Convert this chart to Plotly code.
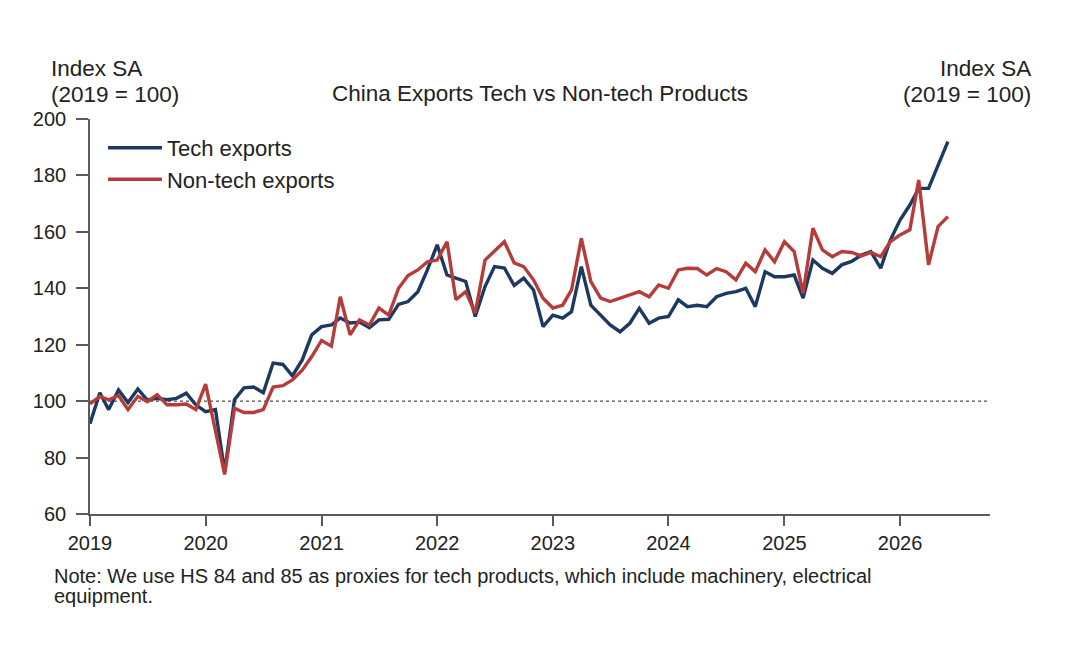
import plotly.graph_objects as go
import pandas as pd

# ---------------- data ----------------
months = pd.date_range("2019-01-01", periods=90, freq="MS").strftime("%Y-%m-%d").tolist()

tech_exports = [
    92, 103, 97, 104, 99.5, 104.3, 100.4, 101, 100.5, 101, 102.8, 98.7,
    96.3, 97, 75, 100.5, 104.7, 105, 103, 113.5, 113, 109, 114.6, 123.5,
    126.4, 127, 129.5, 127.7, 128, 126, 128.8, 129, 134.3, 135.3, 138.8, 146.5,
    155.4, 144.7, 143.6, 142.4, 130, 140.6, 147.7, 147.2, 141, 143.6, 139.4, 126.4,
    130.5, 129.4, 131.7, 147.7, 134, 130.5, 127, 124.6, 127.6, 132.9, 127.6, 129.4,
    130, 135.9, 133.5, 134, 133.5, 137, 138.2, 138.8, 140, 133.5, 145.9, 144.1,
    144.1, 144.7, 136.5, 150, 147.1, 145.3, 148.3, 149.5, 151.8, 153,
    147.1, 157, 164.2, 169.5, 175.4, 175.4, 183.7, 192,
]

nontech_exports = [
    99, 101.7, 100.5, 102, 97, 101.7, 99.8, 102.3, 98.7, 98.7, 99, 97,
    106, 89.5, 74, 97.5, 96, 96, 97, 105, 105.5, 107.5, 111, 115.8,
    121.5, 119.5, 137, 123.5, 128.8, 127, 133, 130.5, 140, 144.5, 146.5, 149.4,
    150, 156.5, 136, 138.8, 131.2, 150, 153, 156.5, 149, 147.7, 143, 136.5,
    133, 134, 139.4, 157.7, 142.4, 136.5, 135.3, 136.5, 137.6, 138.8, 137, 141.2,
    140, 146.5, 147.1, 147, 144.7, 147, 145.9, 143, 148.9, 145.9, 153.6, 149.4,
    156.5, 153, 138.2, 161.3, 153.6, 151.2, 153, 152.7, 151.5, 152.7,
    151.2, 156.5, 158.9, 160.7, 178.4, 148.3, 161.9, 165.4,
]

year_ticks = [f"{y}-01-01" for y in range(2019, 2027)]
year_labels = [str(y) for y in range(2019, 2027)]
value_ticks = [60, 80, 100, 120, 140, 160, 180, 200]
baseline = 100

# ---------------- figure ----------------
FONT = "Liberation Sans, Arial, sans-serif"
AXIS_COL = "#5a5a5a"
TXT = "#222222"

fig = go.Figure()
fig.add_trace(go.Scatter(
    x=months, y=tech_exports, name="Tech exports", mode="lines",
    line=dict(color="#1b3961", width=3.4),
))
fig.add_trace(go.Scatter(
    x=months, y=nontech_exports, name="Non-tech exports", mode="lines",
    line=dict(color="#b63c3a", width=3.4),
))

fig.add_hline(y=baseline, line=dict(color="#222222", width=1, dash="3px,3px"), layer="below")

axis_common = dict(
    range=[60, 200], tickvals=value_ticks, ticks="outside", ticklen=12,
    tickwidth=1.5, tickcolor=AXIS_COL, showline=True, linecolor=AXIS_COL,
    linewidth=1.6, showgrid=False, zeroline=False,
    tickfont=dict(family=FONT, size=20, color=TXT), ticklabelstandoff=6,
)

fig.update_layout(
    width=1080, height=645,
    margin=dict(l=90, r=90, t=119, b=131),
    paper_bgcolor="white", plot_bgcolor="white",
    font=dict(family=FONT, color=TXT),
    xaxis=dict(
        type="date", range=["2019-01-01", "2026-10-12"],
        tickvals=year_ticks, ticktext=year_labels,
        ticks="outside", ticklen=10, tickwidth=1.5, tickcolor=AXIS_COL,
        showline=True, linecolor=AXIS_COL, linewidth=1.6,
        showgrid=False, zeroline=False,
        tickfont=dict(family=FONT, size=20, color=TXT),
    ),
    yaxis=dict(side="left", **axis_common),
    yaxis2=dict(side="right", overlaying="y", **axis_common),
    legend=dict(
        x=0.0144, y=0.98, xanchor="left", yanchor="top",
        bgcolor="rgba(0,0,0,0)", borderwidth=0,
        font=dict(family=FONT, size=22, color=TXT),
        itemwidth=54, tracegroupgap=0,
    ),
    showlegend=True,
)


def px_x(px):
    return (px - 90) / 900.0


def px_y(py):
    return (514 - py) / 395.0


def text_ann(text, x, y, xanchor, size):
    return dict(text=text, xref="paper", yref="paper", x=px_x(x), y=px_y(y),
                xanchor=xanchor, yanchor="middle", showarrow=False,
                font=dict(family=FONT, size=size, color=TXT))


ann = [
    text_ann("Index SA", 49, 68, "left", 22.5),
    text_ann("(2019 = 100)", 49, 94, "left", 22.5),
    text_ann("Index SA", 1033, 68, "right", 22.5),
    text_ann("(2019 = 100)", 1033, 94, "right", 22.5),
    text_ann("China Exports Tech vs Non-tech Products", 540, 93, "center", 22.5),
    text_ann("Note: We use HS 84 and 85 as proxies for tech products, which include machinery, electrical",
             52, 576, "left", 20),
    text_ann("equipment.", 52, 596, "left", 20),
]
fig.update_layout(annotations=ann)

fig.write_html("out.html")
